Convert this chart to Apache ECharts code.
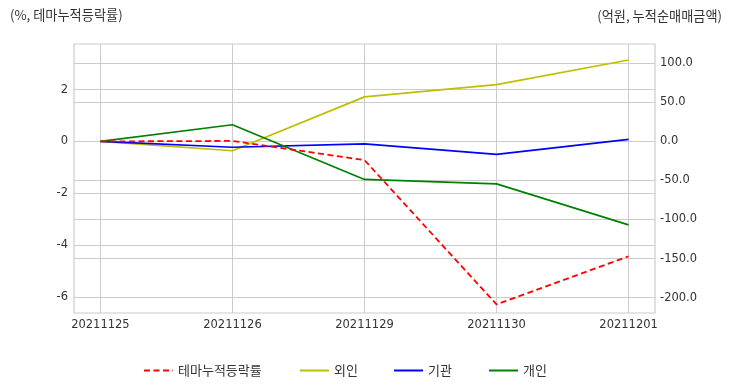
<!DOCTYPE html>
<html><head><meta charset="utf-8">
<script src="https://cdn.jsdelivr.net/npm/echarts@6/dist/echarts.min.js"></script>
<style>html,body{margin:0;padding:0;background:#fff}#c{width:732px;height:392px}</style>
</head><body><div id="c"></div>
<script>
const dates = ['20211125','20211126','20211129','20211130','20211201'];
const themeReturn = [0, 0.02, -0.72, -6.29, -4.43];
const foreign = [0, -12, 57, 72.6, 104.2];
const institution = [0, -7.5, -3.1, -16.7, 2.6];
const individual = [0, 21.3, -48.7, -54.4, -106.9];
const leftTicks = [-6, -4, -2, 0, 2];
const rightTicks = [-200, -150, -100, -50, 0, 50, 100];
const xTicks = [0, 1, 2, 3, 4];

const numFont = 'DejaVu Sans';
const krFont = '"Noto Sans CJK KR", sans-serif';
const gridColor = '#cccccc';
const txt = '#333333';

function pts(arr){ return arr.map((v,i)=>[i, v]); }

const chart = echarts.init(document.getElementById('c'), null, {renderer:'canvas'});
const names = ['테마누적등락률','외인','기관','개인'];
const legendLefts = [138, 294, 388, 483];
chart.setOption({
  animation:false,
  title:[
    {text:'(%, 테마누적등락률)', left:5, top:3, textStyle:{fontSize:13.2, fontWeight:'normal', color:txt, fontFamily:krFont}},
    {text:'(억원, 누적순매매금액)', right:5, top:4, textStyle:{fontSize:13.2, fontWeight:'normal', color:txt, fontFamily:krFont}}
  ],
  legend: names.map((n,i)=>({
    data:[n], left:legendLefts[i], top:359, itemWidth:29, itemHeight:14,
    itemStyle:{opacity:0},
    textStyle:{fontSize:13, color:txt, fontFamily:krFont}
  })),
  grid:{left:74, right:77, top:44, bottom:79, show:true, borderColor:gridColor, borderWidth:1.2, backgroundColor:'#fff'},
  xAxis:{
    type:'value', min:-0.2, max:4.2,
    axisLine:{show:false},
    axisTick:{show:false, customValues:xTicks},
    axisLabel:{customValues:xTicks, formatter:v=>dates[Math.round(v)], fontSize:11.5, color:txt, fontFamily:numFont, margin:6},
    splitLine:{show:true, lineStyle:{color:gridColor, width:1}}
  },
  yAxis:[
    {type:'value', min:-6.62, max:3.76, position:'left',
      axisLine:{show:false},
      axisTick:{show:false, customValues:leftTicks},
      axisLabel:{customValues:leftTicks, formatter:v=>String(v), fontSize:11.5, color:txt, fontFamily:numFont, margin:6},
      splitLine:{show:true, lineStyle:{color:gridColor, width:1}}
    },
    {type:'value', min:-219.7, max:124.7, position:'right',
      axisLine:{show:false},
      axisTick:{show:false, customValues:rightTicks},
      axisLabel:{customValues:rightTicks, formatter:v=>v.toFixed(1), fontSize:11.5, color:txt, fontFamily:numFont, margin:5},
      splitLine:{show:true, lineStyle:{color:gridColor, width:1}}
    }
  ],
  series:[
    {name:names[0], type:'line', yAxisIndex:0, data:pts(themeReturn), symbol:'none', z:5,
      lineStyle:{color:'#ff0000', width:1.8, type:[6,3.5]}, itemStyle:{color:'#ff0000'}},
    {name:names[1], type:'line', yAxisIndex:1, data:pts(foreign), symbol:'none',
      lineStyle:{color:'#bfbf00', width:1.7}, itemStyle:{color:'#bfbf00'}},
    {name:names[2], type:'line', yAxisIndex:1, data:pts(institution), symbol:'none',
      lineStyle:{color:'#0000ff', width:1.7}, itemStyle:{color:'#0000ff'}},
    {name:names[3], type:'line', yAxisIndex:1, data:pts(individual), symbol:'none',
      lineStyle:{color:'#008000', width:1.7}, itemStyle:{color:'#008000'}}
  ]
});
</script></body></html>
